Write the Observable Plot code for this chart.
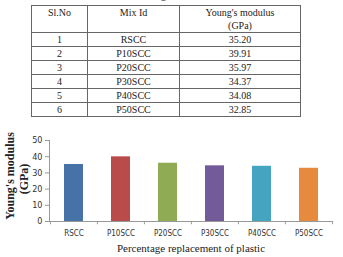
<!DOCTYPE html>
<html>
<head>
<meta charset="utf-8">
<script src="https://cdn.jsdelivr.net/npm/d3@7"></script>
<script src="https://cdn.jsdelivr.net/npm/@observablehq/plot@0.6"></script>
<style>
  html, body { margin: 0; padding: 0; background: #fff; }
  #page { position: relative; width: 343px; height: 257px; overflow: hidden; }
  #ttl { position: absolute; left: 0; width: 314px; top: -10px; text-align: center;
         font: 10px "Liberation Serif", serif; color: #222; }
  #tbl { position: absolute; left: 31px; top: 5px; border-collapse: collapse;
         font: 10px "Liberation Serif", serif; color: #222; }
  #tbl td, #tbl th { border: 1px solid #666; padding: 0; text-align: center; font-weight: normal; }
  #tbl th { vertical-align: top; height: 26px; line-height: 13px; }
  #tbl td { height: 13px; line-height: 13px; }
  #chart { position: absolute; left: 0; top: 125px; }
</style>
</head>
<body>
<div id="page">
  <div id="ttl">Table 3: Young's modulus</div>
  <table id="tbl"></table>
  <div id="chart"></div>
</div>
<script>
const slNo = [1, 2, 3, 4, 5, 6];
const mixIds = ["RSCC", "P10SCC", "P20SCC", "P30SCC", "P40SCC", "P50SCC"];
const youngs = [35.20, 39.91, 35.97, 34.37, 34.08, 32.85];
const colors = ["#4672a8", "#b94c4a", "#8fab54", "#735a99", "#45a5c1", "#e68a3e"];
const yTicks = [0, 10, 20, 30, 40, 50];
const headers = ["Sl.No", "Mix Id", "Young's modulus<br>(GPa)"];
const colWidths = [55, 91, 120];

// table
const tbl = document.getElementById("tbl");
let html = "<tr>" + headers.map((h, i) => `<th style="width:${colWidths[i]}px">${h}</th>`).join("") + "</tr>";
mixIds.forEach((m, i) => {
  html += `<tr><td>${slNo[i]}</td><td>${m}</td><td>${youngs[i].toFixed(2)}</td></tr>`;
});
tbl.innerHTML = html;

// chart
const data = mixIds.map((m, i) => ({mix: m, value: youngs[i], color: colors[i]}));
const W = 343, H = 132, mL = 49, mR = 11;
const step = (W - mL - mR) / mixIds.length;
const chart = Plot.plot({
  width: W, height: H,
  marginLeft: mL, marginRight: mR, marginTop: 15, marginBottom: 36,
  style: {fontFamily: "'Liberation Sans Narrow', 'DejaVu Sans Condensed', sans-serif", fontSize: "8px", color: "#333", background: "#fff", overflow: "visible"},
  x: {domain: mixIds, paddingInner: 0.6, paddingOuter: 0.3, align: 0.5},
  y: {domain: [0, 50]},
  marks: [
    Plot.barY(data, {x: "mix", y: "value", fill: "color"}),
    Plot.frame({anchor: "left", stroke: "#999"}),
    Plot.ruleY([0], {stroke: "#999"}),
    Plot.ruleX(mixIds, {x: d => d, y1: 0, y2: -2, dx: -step / 2, stroke: "#999"}),
    Plot.ruleX([mixIds[mixIds.length - 1]], {x: d => d, y1: 0, y2: -2, dx: step / 2, stroke: "#999"}),
    Plot.axisY(yTicks, {tickSize: 4, tickPadding: 3, stroke: "#999", label: null, fontSize: 9}),
    Plot.axisX({tickSize: 0, tickPadding: 9, label: null, fontSize: 8}),
    Plot.text(["Percentage replacement of plastic"], {frameAnchor: "bottom", dy: 30,
      fontFamily: "'Liberation Serif', serif", fontSize: 11, fill: "#222"}),
    Plot.text(["Young's modulus"], {frameAnchor: "left", textAnchor: "middle", dx: -39, dy: -5, rotate: -90,
      fontFamily: "'Liberation Serif', serif", fontSize: 12, fontWeight: "bold", fill: "#222"}),
    Plot.text(["(GPa)"], {frameAnchor: "left", textAnchor: "middle", dx: -25, dy: -2, rotate: -90,
      fontFamily: "'Liberation Serif', serif", fontSize: 12, fontWeight: "bold", fill: "#222"})
  ]
});
document.getElementById("chart").appendChild(chart);
</script>
</body>
</html>
